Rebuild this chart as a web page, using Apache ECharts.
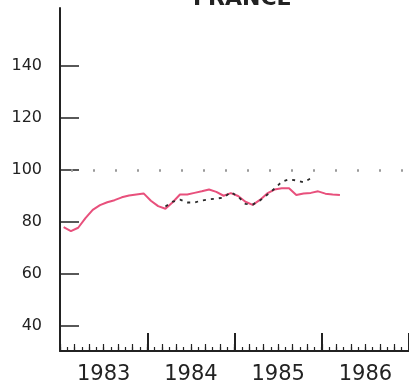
<!DOCTYPE html>
<html>
<head>
<meta charset="utf-8">
<script src="https://cdn.jsdelivr.net/npm/echarts@6/dist/echarts.min.js"></script>
<style>
  html, body { margin: 0; padding: 0; background: #fff; }
  #chart { width: 409px; height: 392px; }
</style>
</head>
<body>
<div id="chart"></div>
<script>
const years = ['1983', '1984', '1985', '1986']
const yTicks = [40, 60, 80, 100, 120, 140]

// monthly index, Jan 1983 .. Mar 1986
const indexValues = [78.0, 76.5, 77.8, 81.5, 84.7, 86.5, 87.6, 88.4, 89.5, 90.2, 90.6, 91.0,
  88.2, 86.1, 85.1, 87.6, 90.6, 90.6, 91.2, 91.8, 92.5, 91.6, 90.1, 91.1,
  90.0, 87.8, 86.6, 88.5, 91.0, 92.5, 93.0, 93.0, 90.4, 91.0, 91.2, 91.8,
  90.9, 90.6, 90.4]

// dotted comparison series, starts Mar 1984
const otherValues = [null, null, null, null, null, null, null, null, null, null, null, null,
  null, null, 86.0, 87.8, 88.6, 87.5, 87.5, 88.3, 88.7, 89.0, 89.4, 91.5,
  89.8, 87.0, 86.7, 88.3, 90.5, 92.8, 95.5, 96.4, 96.0, 95.3, 96.8]

const months = []
years.forEach(y => { for (let m = 1; m <= 12; m++) months.push(y + '-' + m) })
const biMonths = months.filter((m, i) => i % 2 === 0)

const chart = echarts.init(document.getElementById('chart'))
const ink = '#222'

chart.setOption({
  animation: false,
  backgroundColor: '#fff',
  textStyle: { fontFamily: 'DejaVu Sans' },
  title: {
    text: 'FRANCE',
    left: 193,
    top: -12,
    padding: 0,
    textStyle: { fontSize: 22, fontWeight: 'bold', color: ink, fontFamily: 'DejaVu Sans' }
  },
  grid: { left: 60, top: 8, width: 354, height: 343 },
  xAxis: [
    {
      type: 'category',
      data: months,
      boundaryGap: true,
      position: 'bottom',
      axisLine: { show: true, lineStyle: { color: ink, width: 2 } },
      axisTick: { show: true, inside: true, interval: 0, length: 4, lineStyle: { color: ink, width: 1.2 } },
      axisLabel: { show: false },
      splitLine: { show: false }
    },
    {
      type: 'category',
      data: biMonths,
      boundaryGap: true,
      position: 'bottom',
      axisLine: { show: false },
      axisTick: { show: true, inside: true, interval: 0, length: 7, lineStyle: { color: ink, width: 1.2 } },
      axisLabel: { show: false },
      splitLine: { show: false }
    },
    {
      type: 'category',
      data: years,
      boundaryGap: true,
      position: 'bottom',
      axisLine: { show: false },
      axisTick: { show: true, inside: true, interval: 0, length: 18, lineStyle: { color: ink, width: 2 } },
      axisLabel: { color: ink, fontSize: 21, margin: 13, fontFamily: 'DejaVu Sans' },
      splitLine: { show: false }
    }
  ],
  yAxis: {
    type: 'value',
    min: 30.4,
    max: 162.3,
    axisLine: { show: true, lineStyle: { color: ink, width: 2 } },
    axisTick: { show: true, inside: true, length: 19, customValues: yTicks, lineStyle: { color: ink, width: 1.5 } },
    axisLabel: { customValues: yTicks, color: ink, fontSize: 16, margin: 18, fontFamily: 'DejaVu Sans' },
    splitLine: { show: false }
  },
  series: [
    {
      name: 'index',
      type: 'line',
      xAxisIndex: 0,
      data: indexValues,
      showSymbol: false,
      lineStyle: { color: '#e8507c', width: 2 },
      markLine: {
        silent: true,
        symbol: 'none',
        label: { show: false },
        lineStyle: { color: '#9a9a9a', width: 2.5, type: [2, 20], dashOffset: 11 },
        data: [{ yAxis: 100 }]
      },
      z: 2
    },
    {
      name: 'other',
      type: 'line',
      xAxisIndex: 0,
      data: otherValues,
      showSymbol: false,
      connectNulls: false,
      lineStyle: { color: '#2a2a2a', width: 1.8, type: [3, 5] },
      z: 3
    }
  ]
})
</script>
</body>
</html>
